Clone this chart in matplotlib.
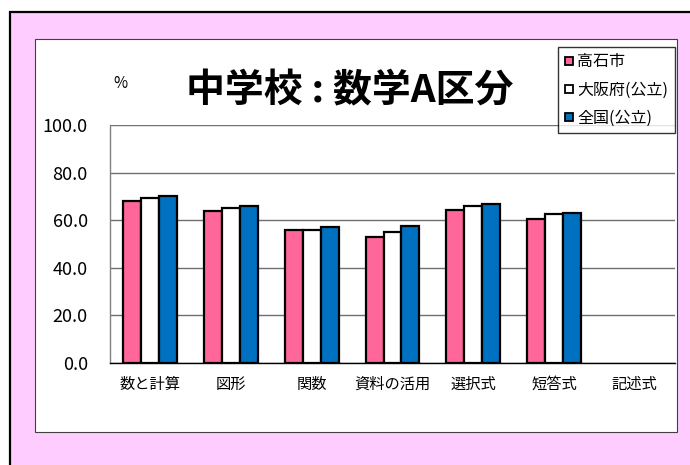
import matplotlib.pyplot as plt
from matplotlib.patches import Rectangle
from matplotlib.lines import Line2D
import numpy as np

plt.rcParams['font.family'] = ['Noto Sans CJK JP', 'DejaVu Sans']

categories = ['数と計算', '図形', '関数', '資料の活用', '選択式', '短答式', '記述式']
takaishi = [68.2, 63.7, 55.9, 52.9, 64.4, 60.7]
osaka = [69.5, 65.1, 55.9, 55.0, 66.0, 62.4]
zenkoku = [70.3, 65.9, 57.2, 57.4, 66.8, 63.2]
series_names = ['高石市', '大阪府(公立)', '全国(公立)']
series_colors = ['#FF6699', '#FFFFFF', '#0070C0']

W, H = 690, 465
fig = plt.figure(figsize=(W / 100, H / 100), dpi=100)
fig.patch.set_facecolor('white')

# pink outer frame and white chart panel (pixel coords converted to figure fractions)
def px_rect(x0, y0, x1, y1, **kw):
    return Rectangle((x0 / W, 1 - y1 / H), (x1 - x0) / W, (y1 - y0) / H,
                     transform=fig.transFigure, **kw)

fig.patches.append(px_rect(10, 12, W + 10, H + 10, facecolor='#FFCCFF',
                           edgecolor='black', linewidth=1.6, zorder=0))
fig.patches.append(px_rect(35, 39, 677, 432, facecolor='white',
                           edgecolor='#404040', linewidth=0.8, zorder=1))

ax = fig.add_axes([110 / W, 1 - 363 / H, (675 - 110) / W, (363 - 125) / H])
ax.set_facecolor('none')
ax.set_zorder(2)

x = np.arange(len(categories))
bw = 0.223
for i, (vals, color) in enumerate(zip([takaishi, osaka, zenkoku], series_colors)):
    ax.bar(x[:len(vals)] + (i - 1) * bw, vals, width=bw, color=color,
           edgecolor='black', linewidth=1.6, zorder=3)

ax.set_xlim(-0.5, len(categories) - 0.5)
ax.set_ylim(0, 100)
ax.set_yticks(np.arange(0, 101, 20))
ax.set_yticklabels([f'{v:.1f}' for v in np.arange(0, 101, 20)], fontsize=13)
ax.set_xticks(x)
ax.set_xticklabels(categories, fontsize=11)
ax.tick_params(axis='both', length=0)
ax.tick_params(axis='y', pad=16)
ax.tick_params(axis='x', pad=9)
ax.yaxis.grid(True, color='#707070', linewidth=1.0, zorder=0)
ax.set_axisbelow(True)
for s in ['top', 'right']:
    ax.spines[s].set_visible(False)
ax.spines['left'].set_color('#808080')
ax.spines['bottom'].set_color('black')
ax.spines['left'].set_linewidth(1.0)
ax.spines['bottom'].set_linewidth(1.0)

fig.text(350 / W, 1 - 91 / H, '中学校 : 数学A区分', fontsize=28, fontweight='bold',
         ha='center', va='center', zorder=5)
fig.text(120 / W, 1 - 83 / H, '%', fontsize=11, ha='center', va='center', zorder=5)

handles = [Line2D([], [], linestyle='none', marker='s', markersize=6,
                  markerfacecolor=c, markeredgecolor='black', markeredgewidth=1.3)
           for c in series_colors]
leg = fig.legend(handles, series_names, loc='upper left',
                 bbox_to_anchor=(558 / W, 1 - 47 / H), fontsize=11.5,
                 frameon=True, fancybox=False, edgecolor='black',
                 handlelength=0.6, handletextpad=0.2, borderpad=0.4,
                 labelspacing=0.7, borderaxespad=0)
leg.get_frame().set_linewidth(1.0)
leg.set_zorder(6)

fig.savefig('out.png', dpi=100)
